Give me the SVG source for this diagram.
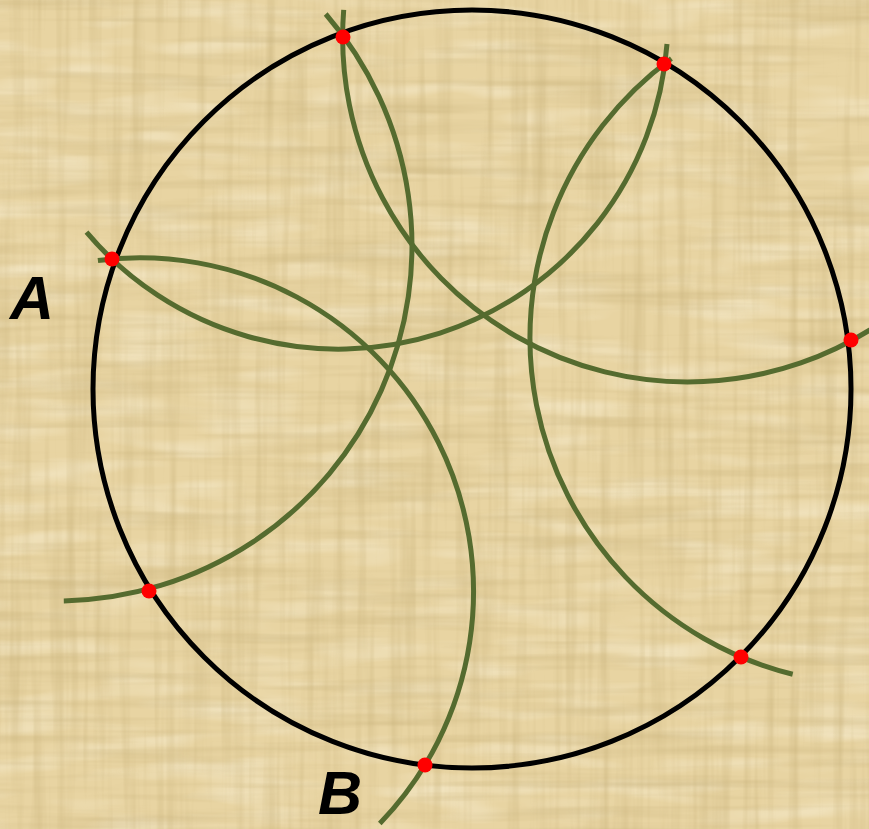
<svg xmlns="http://www.w3.org/2000/svg" width="869" height="829" viewBox="0 0 869 829">
  <defs>
    <style>
      .arc { fill: none; stroke: #556B2F; stroke-width: 5; stroke-linecap: butt; }
      .ring { fill: none; stroke: #000000; stroke-width: 5; }
      .pt { fill: #FF0000; }
      .lbl { font-family: "Liberation Sans", Arial, sans-serif; font-weight: bold; font-style: italic; font-size: 61px; fill: #000000; }
    </style>
    <filter id="fibH" filterUnits="userSpaceOnUse" x="0" y="0" width="869" height="829">
      <feTurbulence type="fractalNoise" baseFrequency="0.004 0.09" numOctaves="3" seed="4"/>
      <feColorMatrix type="matrix" values="0 0 0 0 0.55  0 0 0 0 0.42  0 0 0 0 0.18  0.9 0 0 0 -0.4"/>
    </filter>
    <filter id="fibV" filterUnits="userSpaceOnUse" x="0" y="0" width="869" height="829">
      <feTurbulence type="fractalNoise" baseFrequency="0.09 0.004" numOctaves="3" seed="9"/>
      <feColorMatrix type="matrix" values="0 0 0 0 0.55  0 0 0 0 0.42  0 0 0 0 0.18  0.9 0 0 0 -0.4"/>
    </filter>
    <filter id="light" filterUnits="userSpaceOnUse" x="0" y="0" width="869" height="829">
      <feTurbulence type="fractalNoise" baseFrequency="0.01 0.05" numOctaves="2" seed="21"/>
      <feColorMatrix type="matrix" values="0 0 0 0 1  0 0 0 0 0.96  0 0 0 0 0.82  0 1 0 0 -0.45"/>
    </filter>
  </defs>

  <g id="background">
    <rect x="0" y="0" width="869" height="829" fill="#E8D4A2"/>
    <rect x="0" y="0" width="869" height="829" filter="url(#light)"/>
    <rect x="0" y="0" width="869" height="829" filter="url(#fibH)"/>
    <rect x="0" y="0" width="869" height="829" filter="url(#fibV)"/>
  </g>

  <g id="circle">
    <circle class="ring" cx="472" cy="389" r="379"/>
  </g>

  <g id="arcs">
    <path id="arc1" class="arc" d="M 86.5 232.2 A 329.6 329.6 0 0 0 667 44"/>
    <path id="arc2" class="arc" d="M 343.7 9.9 A 345 345 0 0 0 885.5 319.6"/>
    <path id="arc3" class="arc" d="M 325.7 14 A 355 355 0 0 1 63.8 600.9"/>
    <path id="arc4" class="arc" d="M 97.9 260.4 A 333.8 333.8 0 0 1 379.8 823.5"/>
    <path id="arc5" class="arc" d="M 671.4 58.5 A 346.7 346.7 0 0 0 792.7 674.3"/>
  </g>

  <g id="points">
    <circle id="pA" class="pt" cx="112" cy="259" r="7.5"/>
    <circle id="p1" class="pt" cx="343" cy="37" r="7.5"/>
    <circle id="p2" class="pt" cx="664" cy="64" r="7.5"/>
    <circle id="p3" class="pt" cx="851" cy="340" r="7.5"/>
    <circle id="p4" class="pt" cx="741" cy="657" r="7.5"/>
    <circle id="pB" class="pt" cx="425" cy="765" r="7.5"/>
    <circle id="p6" class="pt" cx="149" cy="591" r="7.5"/>
  </g>

  <g id="labels">
    <text id="labelA" class="lbl" x="10" y="319">A</text>
    <text id="labelB" class="lbl" x="318" y="814">B</text>
  </g>
</svg>
